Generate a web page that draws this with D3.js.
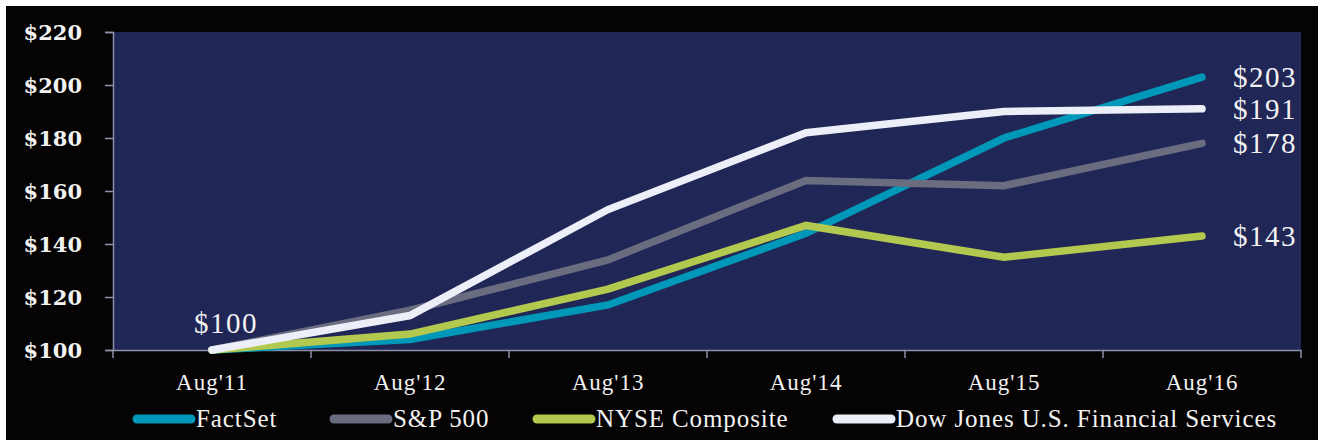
<!DOCTYPE html>
<html>
<head>
<meta charset="utf-8">
<script src="https://cdn.jsdelivr.net/npm/d3@7"></script>
<style>
  html, body { margin: 0; padding: 0; background: #ffffff; }
  svg { display: block; }
</style>
</head>
<body>
<script>
const categories = ["Aug'11", "Aug'12", "Aug'13", "Aug'14", "Aug'15", "Aug'16"];
const factset = [100, 104, 117, 144, 180, 203];
const sp500 = [100, 115, 134, 164, 162, 178];
const nyse = [100, 106, 123, 147, 135, 143];
const dowjones = [100, 113, 153, 182, 190, 191];
const seriesNames = ["FactSet", "S&P 500", "NYSE Composite", "Dow Jones U.S. Financial Services"];
const yTicks = [100, 120, 140, 160, 180, 200, 220];
const endLabels = ["$203", "$178", "$143", "$191"];
const startLabel = "$100";

(function () {
const colors = ["#0098b8", "#6a6c80", "#b3c84e", "#eceff8"];
const seriesValues = [factset, sp500, nyse, dowjones];

const W = 1320, H = 440;
const svg = d3.select("body").append("svg").attr("width", W).attr("height", H);

// white frame + black panel
svg.append("rect").attr("x", 0).attr("y", 0).attr("width", W).attr("height", H).attr("fill", "#ffffff");
svg.append("rect").attr("x", 6).attr("y", 6).attr("width", 1312).attr("height", 434).attr("fill", "#050303");

const mLeft = 113, mRight = 1301, mTop = 32, mBottom = 350;
const x = d3.scaleBand().domain(categories).range([mLeft, mRight]).padding(0);
const y = d3.scaleLinear().domain([100, 220]).range([mBottom, mTop]);
const cx = c => x(c) + x.bandwidth() / 2;

// plot background
svg.append("rect").attr("x", mLeft).attr("y", mTop).attr("width", mRight - mLeft).attr("height", mBottom - mTop)
  .attr("fill", "#202655");

const axisColor = "#8c90aa";

// Y axis
const yAxis = svg.append("g").attr("transform", `translate(${mLeft},0)`)
  .call(d3.axisLeft(y).tickValues(yTicks).tickSize(8).tickPadding(23).tickFormat(d => "$" + d));
yAxis.select(".domain").attr("stroke", axisColor).attr("stroke-width", 1.5);
yAxis.selectAll(".tick line").attr("stroke", axisColor).attr("stroke-width", 1.5);
yAxis.selectAll(".tick text").attr("fill", "#f2f2f2")
  .attr("font-family", "'DejaVu Serif', serif").attr("font-weight", "bold").attr("font-size", 21)
  .attr("dy", "0.36em");

// X axis
const xAxis = svg.append("g").attr("transform", `translate(0,${mBottom})`)
  .call(d3.axisBottom(x).tickSize(0).tickPadding(24).tickSizeOuter(0));
xAxis.select(".domain").attr("stroke", axisColor).attr("stroke-width", 1.5);
xAxis.selectAll(".tick text").attr("fill", "#f2f2f2")
  .attr("font-family", "'Liberation Serif', serif").attr("font-size", 23).attr("letter-spacing", 1);
// tick marks at band edges
const edges = categories.map(c => x(c)).concat([x(categories[categories.length - 1]) + x.bandwidth()]);
xAxis.selectAll(".edge").data(edges).enter().append("line")
  .attr("x1", d => d).attr("x2", d => d).attr("y1", 0).attr("y2", 8)
  .attr("stroke", axisColor).attr("stroke-width", 1.5);

// lines
const line = d3.line().x((d, i) => cx(categories[i])).y(d => y(d));
seriesValues.forEach((vals, k) => {
  svg.append("path").datum(vals).attr("d", line)
    .attr("fill", "none").attr("stroke", colors[k]).attr("stroke-width", 7.5)
    .attr("stroke-linecap", "round").attr("stroke-linejoin", "miter");
});

// end labels
const last = categories[categories.length - 1];
seriesValues.forEach((vals, k) => {
  svg.append("text").attr("x", cx(last) + 31).attr("y", y(vals[vals.length - 1]) + 10)
    .attr("fill", "#f2f2f2").attr("font-family", "'Liberation Serif', serif").attr("font-size", 29)
    .attr("letter-spacing", 1.5)
    .text(endLabels[k]);
});
// start label
svg.append("text").attr("x", cx(categories[0]) - 18).attr("y", y(factset[0]) - 17)
  .attr("fill", "#f2f2f2").attr("font-family", "'Liberation Serif', serif").attr("font-size", 29)
  .attr("letter-spacing", 1.5)
  .text(startLabel);

// legend
const legendX = [133, 330, 533, 833];
const lg = svg.append("g").attr("transform", "translate(0,419)");
seriesNames.forEach((name, k) => {
  lg.append("line").attr("x1", legendX[k] + 4).attr("x2", legendX[k] + 58).attr("y1", 0).attr("y2", 0)
    .attr("stroke", colors[k]).attr("stroke-width", 9).attr("stroke-linecap", "round");
  lg.append("text").attr("x", legendX[k] + 63).attr("y", 8)
    .attr("fill", "#f2f2f2").attr("font-family", "'Liberation Serif', serif").attr("font-size", 25)
    .attr("letter-spacing", 0.9)
    .text(name);
});
})();
</script>
</body>
</html>
